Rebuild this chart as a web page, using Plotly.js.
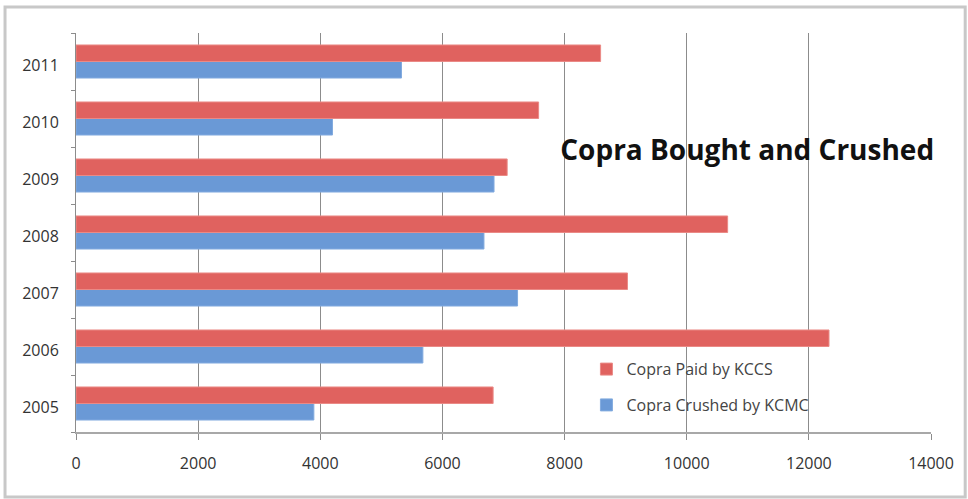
<!DOCTYPE html>
<html>
<head>
<meta charset="utf-8">
<script src="https://cdn.plot.ly/plotly-3.0.1.min.js"></script>
<style>
html,body{margin:0;padding:0;background:#fff;}
#chart{width:968px;height:499px;}
</style>
</head>
<body>
<div id="chart"></div>
<script>
const years = ["2005","2006","2007","2008","2009","2010","2011"];
const paidKCCS = [6830, 12330, 9030, 10670, 7060, 7575, 8590];
const crushedKCMC = [3895, 5680, 7230, 6680, 6845, 4200, 5330];
const seriesNames = ["Copra Crushed by KCMC", "Copra Paid by KCCS"];
const xTicks = [0, 2000, 4000, 6000, 8000, 10000, 12000, 14000];
const chartTitle = "Copra Bought and Crushed";

const traces = [
  {
    type: "bar", orientation: "h", name: seriesNames[0],
    y: years, x: crushedKCMC, legendgroup: "b", legendrank: 2,
    marker: {color: "#6a99d6", line: {color: "#82abdf", width: 1}}
  },
  {
    type: "bar", orientation: "h", name: seriesNames[1],
    y: years, x: paidKCCS, legendgroup: "a", legendrank: 1,
    marker: {color: "#e0625f", line: {color: "#ea8a86", width: 1}}
  }
];

const layout = {
  width: 968, height: 499,
  margin: {l: 76, r: 37, t: 33, b: 67},
  paper_bgcolor: "#fff", plot_bgcolor: "#fff",
  barmode: "group", bargap: 0.42, bargroupgap: 0,
  font: {family: "Open Sans, Liberation Sans, sans-serif", color: "#333", size: 16},
  title: {
    text: "<b>" + chartTitle + "</b>",
    font: {family: "Open Sans, sans-serif", size: 28, color: "#111"},
    x: 0.785, xref: "paper", xanchor: "center",
    y: 0.707, yref: "paper", yanchor: "middle"
  },
  xaxis: {
    range: [0, 14000], tickvals: xTicks, ticktext: xTicks.map(String),
    showgrid: true, gridcolor: "#8c8c8c", gridwidth: 1,
    zeroline: false, showline: true, linecolor: "#a8a8a8", linewidth: 2,
    ticks: "outside", ticklen: 6, tickcolor: "#8c8c8c",
    ticklabelstandoff: 10,
    tickfont: {size: 16, color: "#333"}, fixedrange: true
  },
  yaxis: {
    type: "category", categoryorder: "array", categoryarray: years,
    showgrid: false, zeroline: false, showline: true, linecolor: "#8c8c8c", linewidth: 1,
    ticks: "outside", tickson: "boundaries", ticklen: 4, tickcolor: "#8c8c8c",
    ticklabelstandoff: 13, ticklabelshift: 4,
    tickfont: {size: 16, color: "#333"}, fixedrange: true
  },
  showlegend: true,
  legend: {
    x: 0.597, y: 0.2, xanchor: "left", yanchor: "top",
    traceorder: "grouped", tracegroupgap: 12,
    bgcolor: "rgba(255,255,255,0)",
    font: {size: 16, color: "#444"}, itemwidth: 30
  },
  shapes: [
    {type: "rect", xref: "paper", yref: "paper",
     x0: -0.083, x1: 1.04, y0: -0.163, y1: 1.065,
     line: {color: "#c8c8c8", width: 3}, fillcolor: "rgba(0,0,0,0)", layer: "below"}
  ]
};

Plotly.newPlot("chart", traces, layout, {displayModeBar: false, staticPlot: true});
</script>
</body>
</html>
